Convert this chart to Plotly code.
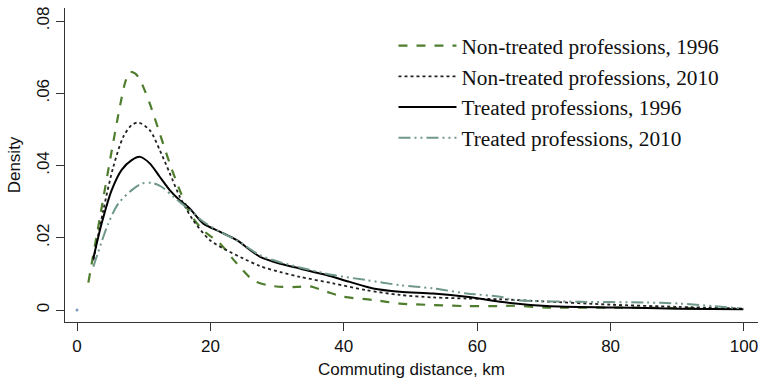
import plotly.graph_objects as go

# Non-treated professions, 1996
nt96_x = [1.7, 3.45, 5, 6.5, 7.3, 7.95, 8.7, 9.45, 10.9, 12.4, 13.9, 15.4, 16.9, 18.9, 21.4, 23.9, 26.4, 28.5,
          30.9, 33, 34.9, 37.4, 39.9, 44.4, 48.4, 53.4, 58.4, 63.4, 65.4, 70.4, 80.4, 93]
nt96_y = [0.0076, 0.0258, 0.042, 0.057, 0.0635, 0.0659, 0.0655, 0.0637, 0.0572, 0.0489, 0.0406, 0.0332, 0.0268,
          0.0221, 0.0185, 0.013, 0.0083, 0.0069, 0.0064, 0.0064, 0.0066, 0.0051, 0.0037, 0.0028, 0.0018, 0.0014,
          0.0011, 0.0011, 0.0012, 0.0007, 0.0007, 0.0005]

# Non-treated professions, 2010
nt10_x = [2.45, 3.95, 5.45, 6.95, 8.2, 9.2, 10.9, 12.4, 13.9, 15.4, 17.4, 19.9, 22.4, 24.9, 27.4, 30.5, 33.4,
          38.4, 43.4, 48.4, 53.4, 58.4, 63.4, 70, 80, 90, 100]
nt10_y = [0.0138, 0.0277, 0.0397, 0.048, 0.0512, 0.0519, 0.0498, 0.0443, 0.0379, 0.0314, 0.0249, 0.0194, 0.0166,
          0.0143, 0.0122, 0.0105, 0.0092, 0.0074, 0.0055, 0.0042, 0.0035, 0.0032, 0.003, 0.0024, 0.0015, 0.0009,
          0.0004]

# Treated professions, 1996
t96_x = [2.45, 3.7, 5.2, 6.7, 8.2, 9.45, 10.9, 12.4, 13.9, 15.4, 16.9, 18.9, 21.4, 23.9, 27.4, 30.5, 33.4,
         37.4, 40.9, 44.4, 48.4, 53.4, 58.4, 63.4, 70.4, 80.4, 90.4, 99.9]
t96_y = [0.0143, 0.024, 0.0332, 0.0388, 0.0415, 0.0424, 0.0406, 0.0369, 0.0332, 0.0304, 0.0281, 0.024, 0.0217,
         0.0194, 0.0148, 0.0128, 0.0115, 0.0097, 0.0078, 0.006, 0.0051, 0.0046, 0.0037, 0.0023, 0.0011, 0.0007,
         0.0004, 0.0002]

# Treated professions, 2010
t10_x = [2.45, 4.7, 6.2, 8.2, 9.7, 11.2, 12.6, 14.45, 16.9, 18.9, 21.4, 23.9, 27.4, 30.5, 33.4, 38.4, 43.4,
         48.4, 53.4, 58.4, 63.4, 65.4, 75.4, 85.4, 90.4, 95.4, 99.9]
t10_y = [0.012, 0.024, 0.0295, 0.0332, 0.035, 0.0352, 0.0342, 0.0314, 0.0277, 0.0245, 0.0217, 0.0194, 0.0152,
         0.0132, 0.0118, 0.0097, 0.0083, 0.0069, 0.006, 0.0046, 0.0037, 0.0028, 0.0023, 0.0021, 0.0018, 0.0011,
         0.0004]

stray_x = [0]
stray_y = [0]

x_ticks = [0, 20, 40, 60, 80, 100]
y_ticks = [0, 0.02, 0.04, 0.06, 0.08]
y_ticktext = ["0", ".02", ".04", ".06", ".08"]

names = ["Non-treated professions, 1996", "Non-treated professions, 2010",
         "Treated professions, 1996", "Treated professions, 2010"]

fig = go.Figure()
fig.add_trace(go.Scatter(x=nt96_x, y=nt96_y, mode="lines", name=names[0], legendgroup="a",
                         line=dict(color="#4f7d2e", width=2.2, dash="dash", shape="spline", smoothing=0.8)))
fig.add_trace(go.Scatter(x=nt10_x, y=nt10_y, mode="lines", name=names[1], legendgroup="b",
                         line=dict(color="#222222", width=1.8, dash="dot", shape="spline", smoothing=0.8)))
fig.add_trace(go.Scatter(x=t96_x, y=t96_y, mode="lines", name=names[2], legendgroup="c",
                         line=dict(color="#000000", width=2, dash="solid", shape="spline", smoothing=0.8)))
fig.add_trace(go.Scatter(x=t10_x, y=t10_y, mode="lines", name=names[3], legendgroup="d",
                         line=dict(color="#6f978a", width=2, dash="12px,4px,2px,4px,2px,4px", shape="spline",
                                   smoothing=0.8)))
fig.add_trace(go.Scatter(x=stray_x, y=stray_y, mode="markers", showlegend=False,
                         marker=dict(color="#7f9ac0", size=3)))

axis_font = dict(family="Liberation Sans, Arial, sans-serif", size=17, color="#111111")

fig.update_layout(
    width=762, height=385,
    margin=dict(l=65, r=4, t=8, b=63),
    paper_bgcolor="white", plot_bgcolor="white",
    showlegend=True,
    legend=dict(x=0.474, y=0.945, xanchor="left", yanchor="top",
                font=dict(family="Liberation Serif, Times New Roman, serif", size=21.3, color="#111111"),
                itemwidth=58, tracegroupgap=0, bgcolor="rgba(0,0,0,0)"),
    xaxis=dict(range=[-1.8, 102.1], tickvals=x_ticks, showgrid=False, zeroline=False,
               showline=True, linecolor="#333333", linewidth=1.2,
               ticks="outside", ticklen=8, tickcolor="#333333",
               tickfont=axis_font,
               title=dict(text="Commuting distance, km", font=axis_font, standoff=8)),
    yaxis=dict(range=[-0.0033, 0.0836], tickvals=y_ticks, ticktext=y_ticktext, tickangle=-90,
               showgrid=False, zeroline=False,
               showline=True, linecolor="#333333", linewidth=1.2,
               ticks="outside", ticklen=8, tickcolor="#333333",
               tickfont=axis_font,
               title=dict(text="Density", font=axis_font, standoff=9)),
)

fig.write_html("out.html", config={"displayModeBar": False},
               post_script="document.body.style.margin='0';")
